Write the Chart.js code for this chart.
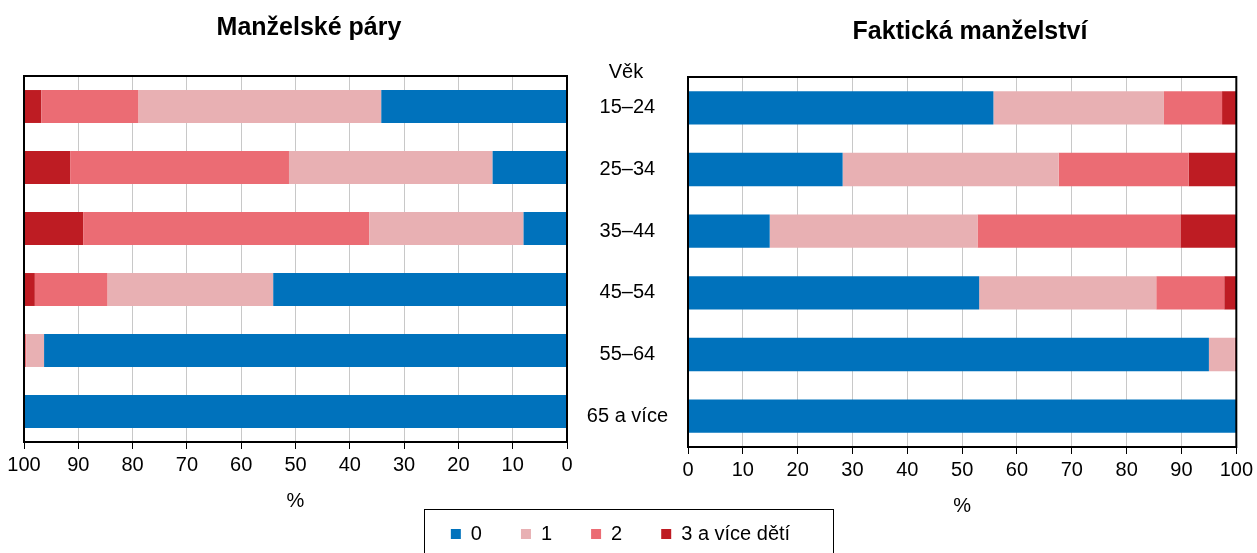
<!DOCTYPE html>
<html><head><meta charset="utf-8">
<script src="https://cdn.jsdelivr.net/npm/chart.js@4.4.1/dist/chart.umd.min.js"></script>
<style>
html,body{margin:0;padding:0;background:#fff;}
#wrap{position:relative;width:1257px;height:553px;overflow:hidden;background:#fff;}
#right,#left{position:absolute;left:0;top:0;}
</style></head><body>
<div id="wrap"><canvas id="right" width="1257" height="553"></canvas><canvas id="left" width="590" height="553"></canvas></div>
<script>
const ageGroups = ['15–24','25–34','35–44','45–54','55–64','65 a více'];
const seriesNames = ['0','1','2','3 a více dětí'];
const seriesColors = ['#0072bc','#e8b0b3','#eb6c74','#be1c23'];
const xTickValues = [0,10,20,30,40,50,60,70,80,90,100];

// Manželské páry (%)
const marriedNone = [34.2, 13.7, 8.0, 54.1, 96.3, 100];
const marriedOne = [44.7, 37.5, 28.4, 30.5, 3.3, 0];
const marriedTwo = [17.9, 40.3, 52.7, 13.4, 0.3, 0];
const marriedThreePlus = [3.2, 8.5, 10.9, 2.0, 0.1, 0];

// Faktická manželství (%)
const cohabNone = [55.7, 28.2, 14.9, 53.1, 95.0, 100];
const cohabOne = [31.1, 39.4, 37.9, 32.3, 4.7, 0];
const cohabTwo = [10.6, 23.7, 37.0, 12.4, 0.3, 0];
const cohabThreePlus = [2.6, 8.7, 10.2, 2.2, 0, 0];

const FONT = "'Liberation Sans', Arial, sans-serif";
Chart.defaults.font.family = FONT;
Chart.defaults.color = '#000';

const textPlugin = {
  id: 'texts',
  afterDraw(chart, args, opts) {
    const ctx = chart.ctx;
    (opts.items || []).forEach(it => {
      ctx.save();
      ctx.font = it.font;
      ctx.fillStyle = '#000';
      ctx.textAlign = 'center';
      ctx.textBaseline = 'middle';
      ctx.fillText(it.text, it.x, it.y);
      ctx.restore();
    });
  }
};
const framePlugin = {
  id: 'frame',
  afterDatasetsDraw(chart) {
    const a = chart.chartArea, ctx = chart.ctx;
    ctx.save();
    ctx.strokeStyle = '#000';
    ctx.lineWidth = 2;
    ctx.strokeRect(a.left, a.top, a.right - a.left, a.bottom - a.top);
    ctx.restore();
  }
};
const legendFramePlugin = {
  id: 'legendFrame',
  afterDraw(chart, args, opts) {
    if (!opts.width) return;
    const ctx = chart.ctx;
    const cx = chart.width / 2;
    ctx.save();
    ctx.strokeStyle = '#000';
    ctx.lineWidth = 1;
    ctx.strokeRect(Math.round(cx - opts.width / 2) + 0.5, opts.top + 0.5, opts.width, 100);
    ctx.restore();
  }
};
// Keep the legend compact in the layout while keeping wide horizontal item spacing
const legendFitPlugin = {
  id: 'legendFit',
  beforeLayout(chart, args, opts) {
    const lg = chart.legend;
    if (!lg || lg._fitPatched || !opts.height) return;
    lg._fitPatched = true;
    const origFit = lg.fit.bind(lg);
    lg.fit = function () { origFit(); this.height = opts.height; };
    const origDraw = lg.draw.bind(lg);
    lg.draw = function () {
      const t = this.top;
      this.top = t - opts.shift;
      origDraw();
      this.top = t;
    };
  }
};

function makeDatasets(arrs) {
  return arrs.map((d, i) => ({
    label: seriesNames[i],
    data: d,
    backgroundColor: seriesColors[i],
    borderWidth: 0,
    categoryPercentage: 0.54,
    barPercentage: 1
  }));
}

function xScale(reverse, axisHeight) {
  return {
    type: 'linear', stacked: true, min: 0, max: 100, reverse: reverse,
    afterBuildTicks(s) { s.ticks = xTickValues.map(v => ({value: v})); },
    ticks: { font: {size: 20}, color: '#000', padding: 4, maxRotation: 0 },
    grid: { color: '#c8c8c8', lineWidth: 1, tickColor: '#000', tickLength: 7, drawTicks: true },
    border: { display: true, color: '#000', width: 2 },
    title: { display: true, text: '%', font: {size: 20}, color: '#000', padding: {top: 4, bottom: 4} },
    afterFit(s) { s.height = axisHeight; }
  };
}

// Right chart: Faktická manželství (with age labels and legend)
new Chart(document.getElementById('right'), {
  type: 'bar',
  data: { labels: ageGroups, datasets: makeDatasets([cohabNone, cohabOne, cohabTwo, cohabThreePlus]) },
  plugins: [legendFitPlugin, textPlugin, framePlugin, legendFramePlugin],
  options: {
    responsive: false, animation: false, indexAxis: 'y',
    layout: { padding: { left: 0, right: 16, top: 77, bottom: 0 } },
    scales: {
      x: xScale(false, 75),
      y: {
        stacked: true, position: 'left',
        grid: { display: false, drawTicks: false },
        border: { display: false },
        ticks: { font: {size: 20}, color: '#000', crossAlign: 'center', padding: 20 },
        afterFit(s) { s.width = 688; }
      }
    },
    plugins: {
      legend: {
        display: true, position: 'bottom',
        labels: { boxWidth: 10, boxHeight: 10, font: {size: 20}, color: '#000', padding: 39 }
      },
      legendFit: { height: 31, shift: 37 },
      tooltip: { enabled: false },
      texts: { items: [
        { text: 'Faktická manželství', x: 970, y: 32, font: "bold 25px " + FONT },
        { text: 'Věk', x: 626, y: 72, font: "20px " + FONT }
      ] },
      legendFrame: { width: 409, top: 509 }
    }
  }
});

// Left chart: Manželské páry (reversed axis)
new Chart(document.getElementById('left'), {
  type: 'bar',
  data: { labels: ageGroups, datasets: makeDatasets([marriedNone, marriedOne, marriedTwo, marriedThreePlus]) },
  plugins: [textPlugin, framePlugin],
  options: {
    responsive: false, animation: false, indexAxis: 'y',
    layout: { padding: { left: 24, right: 23, top: 76, bottom: 36 } },
    scales: {
      x: xScale(true, 75),
      y: { stacked: true, display: false }
    },
    plugins: {
      legend: { display: false },
      tooltip: { enabled: false },
      texts: { items: [
        { text: 'Manželské páry', x: 309, y: 28, font: "bold 25px " + FONT }
      ] }
    }
  }
});
</script>
</body></html>
